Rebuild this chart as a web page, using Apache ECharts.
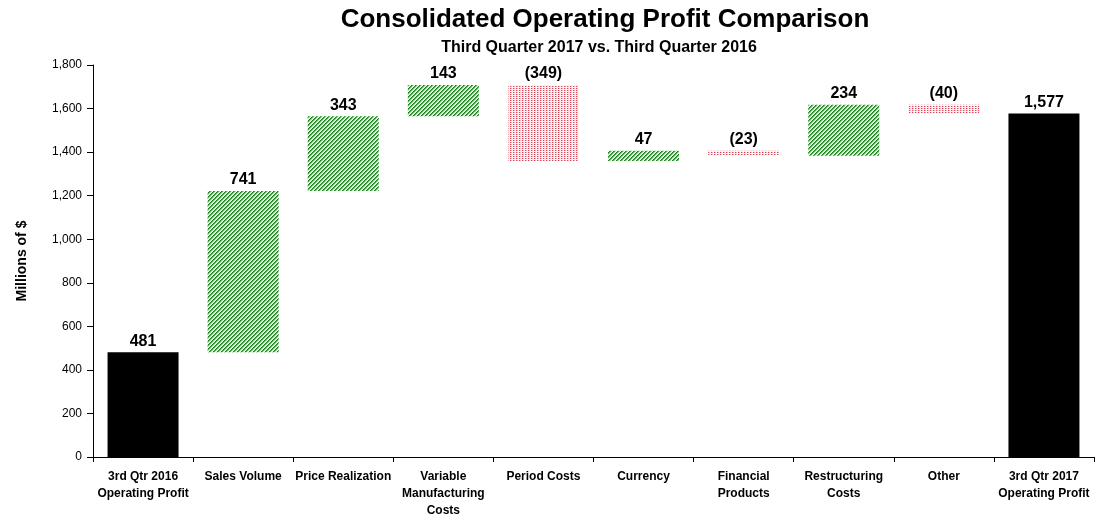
<!DOCTYPE html>
<html>
<head>
<meta charset="utf-8">
<script src="https://cdn.jsdelivr.net/npm/echarts@6/dist/echarts.min.js"></script>
<style>
html,body{margin:0;padding:0;background:#fff;}
#c{width:1116px;height:519px;}
</style>
</head>
<body>
<div id="c"></div>
<script>
var categories = ['3rd Qtr 2016\nOperating Profit','Sales Volume','Price Realization','Variable\nManufacturing\nCosts','Period Costs','Currency','Financial\nProducts','Restructuring\nCosts','Other','3rd Qtr 2017\nOperating Profit'];
var changes = [481, 741, 343, 143, -349, 47, -23, 234, -40, 1577];
var isTotal = [true, false, false, false, false, false, false, false, false, true];
var yTicks = {min: 0, max: 1800, interval: 200};

function makePattern(type) {
  var w = type === 'green' ? 8 : 6, h = type === 'green' ? 8 : 4;
  var cv = document.createElement('canvas');
  cv.width = w; cv.height = h;
  var ctx = cv.getContext('2d');
  var img = ctx.createImageData(w, h);
  for (var y = 0; y < h; y++) {
    for (var x = 0; x < w; x++) {
      var c;
      if (type === 'green') {
        var k = (x + y) % 4;
        c = k === 0 ? [30,125,35] : k === 1 ? [90,175,85] : k === 2 ? [185,235,180] : [245,255,245];
      } else {
        var dot = (x % 3 === 0) && (y % 2 === 0);
        var dot2 = (x % 3 === 1) && (y % 2 === 0);
        c = dot ? [210,70,85] : dot2 ? [245,175,185] : [255,242,244];
      }
      var i = (y * w + x) * 4;
      img.data[i] = c[0]; img.data[i+1] = c[1]; img.data[i+2] = c[2]; img.data[i+3] = 255;
    }
  }
  ctx.putImageData(img, 0, 0);
  return {image: cv, repeat: 'repeat'};
}
var greenPat = makePattern('green');
var redPat = makePattern('red');

var base = [], delta = [];
var run = 0;
for (var i = 0; i < changes.length; i++) {
  if (isTotal[i]) {
    base.push(0);
    delta.push({value: changes[i], itemStyle: {color: '#000'}});
    run = changes[i];
  } else {
    var start = run, end = run + changes[i];
    base.push(Math.min(start, end));
    delta.push({value: Math.abs(changes[i]), itemStyle: {color: changes[i] >= 0 ? greenPat : redPat}});
    run = end;
  }
}

function fmt(v) {
  return String(Math.abs(v)).replace(/\B(?=(\d{3})+(?!\d))/g, ',');
}
var FONT = '"Liberation Sans Narrow","Arial Narrow","Liberation Sans",Arial,sans-serif';

var chart = echarts.init(document.getElementById('c'));
chart.setOption({
  animation: false,
  backgroundColor: '#fff',
  title: [{
    text: 'Consolidated Operating Profit Comparison',
    left: 600, top: 2, textAlign: 'center',
    textStyle: {fontFamily: FONT, fontSize: 26, fontWeight: 'bold', color: '#000'}
  }, {
    text: 'Third Quarter 2017 vs. Third Quarter 2016',
    left: 594, top: 35, textAlign: 'center',
    textStyle: {fontFamily: FONT, fontSize: 16, fontWeight: 'bold', color: '#000'}
  }],
  grid: {left: 93, right: 22, top: 65, bottom: 55},
  xAxis: {
    type: 'category',
    data: categories,
    axisLine: {lineStyle: {color: '#000', width: 1}},
    axisTick: {show: true, length: 5, lineStyle: {color: '#000'}},
    axisLabel: {interval: 0, color: '#000', fontFamily: FONT, fontSize: 12, fontWeight: 'bold', lineHeight: 17, margin: 11}
  },
  yAxis: {
    type: 'value',
    min: yTicks.min, max: yTicks.max, interval: yTicks.interval,
    name: 'Millions of $',
    nameLocation: 'middle',
    nameGap: 64,
    nameTextStyle: {fontFamily: FONT, fontSize: 14, fontWeight: 'bold', color: '#000'},
    splitLine: {show: false},
    axisLine: {show: true, lineStyle: {color: '#000'}},
    axisTick: {show: true, length: 6, lineStyle: {color: '#000'}},
    axisLabel: {color: '#000', fontFamily: FONT, fontSize: 12, margin: 11,
      formatter: function (v) { return fmt(v); }}
  },
  series: [{
    type: 'bar', stack: 'w', data: base, barWidth: 71,
    itemStyle: {color: 'transparent'}, silent: true
  }, {
    type: 'bar', stack: 'w', data: delta, barWidth: 71,
    label: {
      show: true, position: 'top', distance: 3,
      fontFamily: FONT, fontSize: 16, fontWeight: 'bold', color: '#000',
      formatter: function (p) {
        var v = changes[p.dataIndex];
        return v < 0 ? '(' + fmt(v) + ')' : fmt(v);
      }
    }
  }]
});
</script>
</body>
</html>
